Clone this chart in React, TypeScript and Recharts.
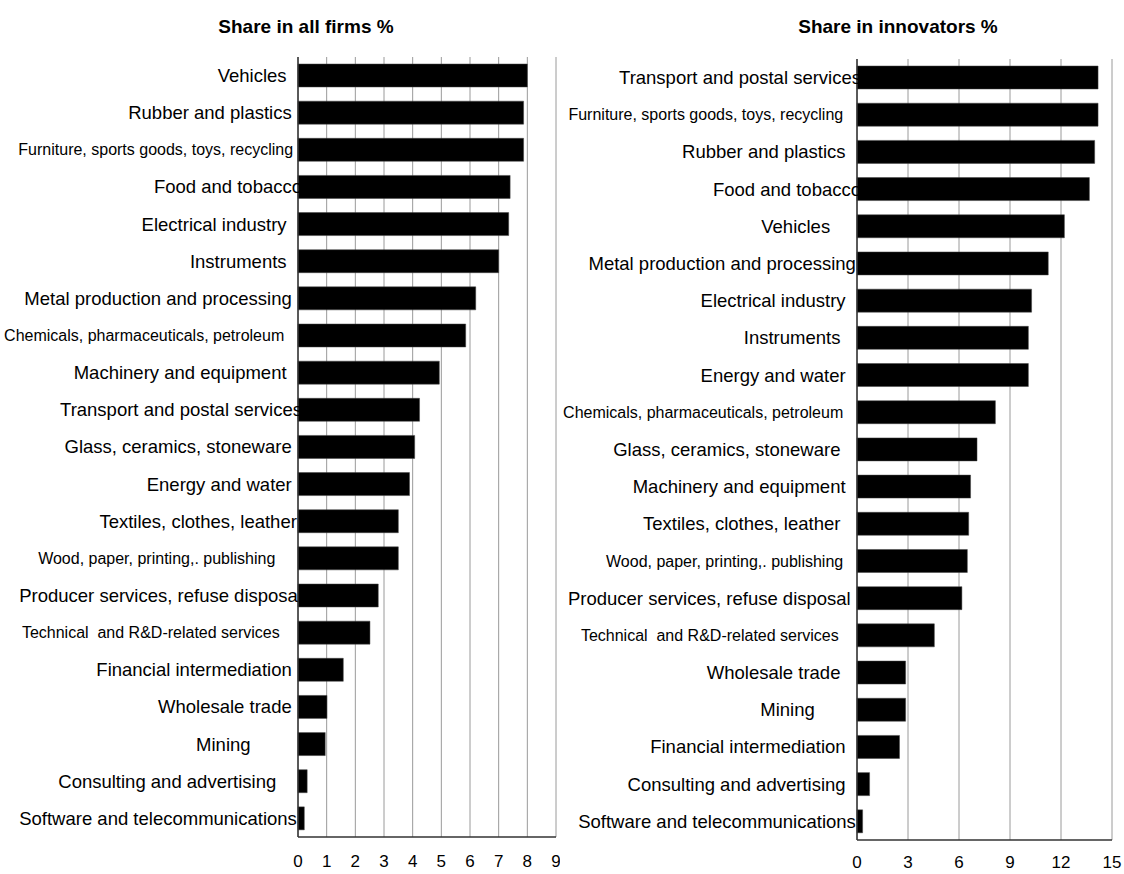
import { Bar, BarChart, CartesianGrid, XAxis, YAxis } from "recharts";

// Share in all firms % (top to bottom). Trailing spaces are part of the original labels.
const firmCategories = [
    "Vehicles   ",
    "Rubber and plastics  ",
    "Furniture, sports goods, toys, recycling  ",
    "Food and tobacco",
    "Electrical industry   ",
    "Instruments   ",
    "Metal production and processing  ",
    "Chemicals, pharmaceuticals, petroleum    ",
    "Machinery and equipment   ",
    "Transport and postal services",
    "Glass, ceramics, stoneware  ",
    "Energy and water  ",
    "Textiles, clothes, leather ",
    "Wood, paper, printing,. publishing      ",
    "Producer services, refuse disposal",
    "Technical  and R&D-related services     ",
    "Financial intermediation  ",
    "Wholesale trade  ",
    "Mining          ",
    "Consulting and advertising     ",
    "Software and telecommunications ",
];
const firmShares = [8.0, 7.87, 7.87, 7.4, 7.35, 7.0, 6.2, 5.85, 4.93, 4.24, 4.07, 3.89, 3.5, 3.5, 2.8, 2.51, 1.58, 1.01, 0.95, 0.32, 0.22];
const firmTicks = [0, 1, 2, 3, 4, 5, 6, 7, 8, 9];

// Share in innovators % (top to bottom)
const innovatorCategories = [
    "Transport and postal services",
    "Furniture, sports goods, toys, recycling    ",
    "Rubber and plastics   ",
    "Food and tobacco",
    "Vehicles      ",
    "Metal production and processing ",
    "Electrical industry   ",
    "Instruments    ",
    "Energy and water   ",
    "Chemicals, pharmaceuticals, petroleum    ",
    "Glass, ceramics, stoneware    ",
    "Machinery and equipment   ",
    "Textiles, clothes, leather    ",
    "Wood, paper, printing,. publishing    ",
    "Producer services, refuse disposal  ",
    "Technical  and R&D-related services     ",
    "Wholesale trade    ",
    "Mining         ",
    "Financial intermediation   ",
    "Consulting and advertising   ",
    "Software and telecommunications ",
];
const innovatorShares = [14.18, 14.18, 13.98, 13.67, 12.2, 11.25, 10.27, 10.08, 10.08, 8.14, 7.06, 6.68, 6.57, 6.49, 6.17, 4.55, 2.86, 2.86, 2.5, 0.74, 0.33];
const innovatorTicks = [0, 3, 6, 9, 12, 15];

const FONT = "'Liberation Sans', Arial, sans-serif";

// the long labels were set in a smaller size
const SMALL_LABELS = new Set([
    "Furniture, sports goods, toys, recycling",
    "Chemicals, pharmaceuticals, petroleum",
    "Wood, paper, printing,. publishing",
    "Technical  and R&D-related services",
]);

function CategoryTick({ x, y, payload }: any) {
    const label = String(payload.value);
    const small = SMALL_LABELS.has(label.trim());
    return (
        <text
            x={x + 4}
            y={y}
            dy="0.35em"
            textAnchor="end"
            fontSize={small ? 16 : 18.5}
            fontFamily={FONT}
            fill="#000"
            style={{ whiteSpace: "pre" }}
        >
            {label}
        </text>
    );
}

interface PanelProps {
    title: string;
    titleX: number;
    left: number;
    width: number;
    categories: string[];
    values: number[];
    ticks: number[];
    axisWidth: number;
    margin: { top: number; right: number; bottom: number; left: number };
    tickMargin: number;
}

function Panel({ title, titleX, left, width, categories, values, ticks, axisWidth, margin, tickMargin }: PanelProps) {
    const data = categories.map((name, i) => ({ name, value: values[i] }));
    const max = ticks[ticks.length - 1];
    return (
        <>
            <div
                style={{
                    position: "absolute",
                    left: titleX - 200,
                    width: 400,
                    top: 14,
                    textAlign: "center",
                    fontFamily: FONT,
                    fontWeight: "bold",
                    fontSize: 19,
                    lineHeight: "26px",
                }}
            >
                {title}
            </div>
            <div style={{ position: "absolute", left, top: 0 }}>
                <BarChart
                    width={width}
                    height={874}
                    data={data}
                    layout="vertical"
                    margin={margin}
                    style={{ overflow: "visible" }}
                >
                    <CartesianGrid horizontal={false} stroke="#9a9a9a" xAxisId="main" yAxisId="main" />
                    <XAxis
                        xAxisId="top"
                        orientation="top"
                        type="number"
                        domain={[0, max]}
                        height={0}
                        tick={false}
                        tickLine={false}
                        axisLine={{ stroke: "#8c8c8c" }}
                    />
                    <XAxis
                        xAxisId="main"
                        type="number"
                        domain={[0, max]}
                        ticks={ticks}
                        interval={0}
                        tickLine={false}
                        tickSize={0}
                        tickMargin={tickMargin}
                        axisLine={{ stroke: "#333", strokeWidth: 1.5 }}
                        tick={{ fontSize: 17, fill: "#000", fontFamily: FONT }}
                        height={30}
                    />
                    <YAxis
                        yAxisId="main"
                        type="category"
                        dataKey="name"
                        width={axisWidth}
                        interval={0}
                        tickLine={false}
                        tickSize={0}
                        tickMargin={0}
                        axisLine={{ stroke: "#333", strokeWidth: 1.5 }}
                        tick={<CategoryTick />}
                    />
                    <Bar
                        xAxisId="main"
                        yAxisId="main"
                        dataKey="value"
                        fill="#000"
                        stroke="#444"
                        strokeWidth={0.5}
                        barSize={23}
                        isAnimationActive={false}
                    />
                </BarChart>
            </div>
        </>
    );
}

export default function App() {
    return (
        <div style={{ position: "absolute", left: 0, top: 0, width: 1124, height: 874, background: "#fff" }}>
            <Panel
                title="Share in all firms %"
                titleX={306}
                left={0}
                width={560}
                categories={firmCategories}
                values={firmShares}
                ticks={firmTicks}
                axisWidth={298}
                margin={{ top: 57, right: 4, bottom: 7, left: 0 }}
                tickMargin={18}
            />
            <Panel
                title="Share in innovators %"
                titleX={898}
                left={560}
                width={564}
                categories={innovatorCategories}
                values={innovatorShares}
                ticks={innovatorTicks}
                axisWidth={297}
                margin={{ top: 59, right: 12, bottom: 4, left: 0 }}
                tickMargin={16}
            />
        </div>
    );
}
